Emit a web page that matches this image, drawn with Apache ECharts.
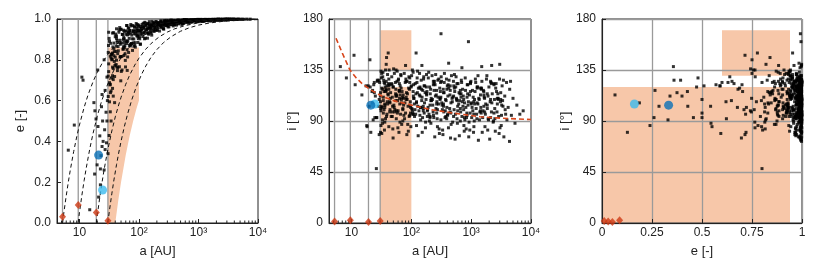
<!DOCTYPE html>
<html>
<head>
<meta charset="utf-8">
<style>
  html, body { margin: 0; background: #fff; }
  #chart { width: 830px; height: 277px; }
</style>
<script src="https://cdn.jsdelivr.net/npm/echarts@6/dist/echarts.min.js"></script>
</head>
<body>
<div id="chart"></div>
<script>
// Giant planets: Jupiter, Saturn, Uranus, Neptune
const planetA = [5.2, 9.55, 19.2, 30.1];
const planetE = [0.031, 0.088, 0.052, 0.011];
const planetI = [1.3, 2.5, 0.8, 1.8];

// the two highlighted objects: [a, e, i]
const objectDark = [21, 0.333, 104];
const objectLight = [24.5, 0.162, 105];

// particle cloud, [a (AU), e, i (deg)]
const cloudInner = [
  [30.5,0.836,115],[31,0.742,99],[31.5,0.905,128],[32,0.688,119],[33,0.818,91],[33.5,0.881,133],
  [34,0.647,108],[35,0.8,124],[36,0.931,104],[37,0.757,135],[38,0.855,117],[39,0.718,96],
  [40,0.913,131],[41,0.841,113],[42,0.798,85],[43,0.895,122],[44,0.83,106],[31,0.935,134],
  [32.5,0.677,102],[34.5,0.826,126],[36.5,0.863,120],[38.5,0.792,94],[40.5,0.926,114],[42.5,0.765,135],
  [44.5,0.865,110],[30.8,0.87,101],[33.2,0.639,129],[35.5,0.803,82],[37.5,0.933,118],[39.5,0.772,107],
  [41.5,0.867,123],[43.5,0.747,98],[32,0.891,132],[34,0.809,111],[36,0.764,89],[38,0.882,125],
  [40,0.813,105],[42,0.952,127],[44,0.761,100],[35,0.829,116],[37,0.622,92],[39,0.59,121],
  [31.5,0.429,103],[33,0.545,88],[30.3,0.34,112],[32,0.594,79],[34,0.5,97],
  [45,0.844,115],[46,0.935,94],[47,0.766,129],[48,0.896,111],[49,0.816,83],[50,0.95,120],
  [51,0.882,104],[52,0.75,132],[53,0.925,100],[54,0.852,124],[55,0.9,118],[56,0.821,92],
  [57,0.939,112],[58,0.871,134],[59,0.797,108],[60,0.925,99],[61,0.893,127],[62,0.968,80],
  [63,0.849,116],[64,0.922,105],[65,0.892,121],[66,0.955,96],[67,0.836,130],[68,0.926,109],
  [69,0.87,87],[46.5,0.946,123],[48.5,0.876,103],[50.5,0.743,136],[52.5,0.924,98],[54.5,0.853,114],
  [56.5,0.903,113],[58.5,0.829,97],[60.5,0.942,126],[62.5,0.88,117],[64.5,0.814,89],[66.5,0.932,131],
  [68.5,0.905,106],[47.5,0.958,122],[51.5,0.816,102],[55.5,0.91,135],[59.5,0.765,84],[63.5,0.748,110],
  [67.5,0.956,119],[49.5,0.697,75],[57.5,0.861,125],
  [70,0.943,116],[72,0.875,90],[74,0.966,110],[76,0.921,132],[78,0.846,106],[80,0.938,97],
  [82,0.902,125],[84,0.964,78],[86,0.884,114],[88,0.926,103],[90,0.978,119],[92,0.918,94],
  [94,0.952,128],[96,0.885,107],[98,0.944,85],[100,0.965,121],[102,0.912,101],[104,0.942,135],
  [106,0.877,96],[108,0.954,112],[71,0.944,111],[75,0.88,95],[79,0.968,124],[83,0.928,115],
  [87,0.862,87],[91,0.945,129],[95,0.916,104],[99,0.97,120],[103,0.903,100],[107,0.939,133],
  [73,0.973,113],[77,0.903,92],[81,0.944,127],[85,0.871,109],[89,0.938,81],[93,0.962,118],
  [97,0.907,102],[101,0.941,130],[105,0.876,98],[109,0.954,122]
];

const cloudMid = [
  [110,0.945,110],[113,0.973,94],[116,0.914,123],[119,0.958,114],[122,0.934,86],[125,0.98,128],
  [128,0.906,103],[131,0.969,119],[134,0.948,99],[137,0.931,132],[140,0.975,112],[143,0.955,91],
  [146,0.925,126],[149,0.987,108],[152,0.964,80],[155,0.945,117],[158,0.972,101],[161,0.953,129],
  [164,0.921,97],[167,0.97,121],[170,0.965,115],[173,0.983,89],[176,0.943,109],[179,0.972,131],
  [112,0.929,105],[118,0.979,96],[124,0.903,124],[130,0.969,77],[136,0.949,113],[142,0.933,102],
  [148,0.976,118],[154,0.958,93],[160,0.931,127],[166,0.988,106],[172,0.968,84],[178,0.952,120],
  [115,0.961,100],[127,0.941,134],[139,0.906,95],[151,0.967,111],
  [182,0.978,116],[187,0.957,100],[192,0.987,128],[197,0.944,96],[202,0.97,120],[207,0.983,114],
  [212,0.958,88],[217,0.977,108],[222,0.941,130],[228,0.969,104],[234,0.991,95],[240,0.958,123],
  [246,0.982,76],[252,0.974,112],[258,0.953,101],[264,0.989,117],[270,0.969,92],[277,0.98,126],
  [284,0.974,105],[291,0.967,83],[298,0.987,119],[185,0.957,99],[195,0.987,133],[205,0.946,94],
  [215,0.972,110],[225,0.984,109],[237,0.962,93],[249,0.98,122],[261,0.95,113],[273,0.974,85],
  [287,0.993,127],[190,0.947,102],[210,0.979,118],[231,0.972,98],[255,0.953,131],[280,0.989,111],
  [200,0.958,90],[243,0.977,125],[267,0.972,107],[294,0.968,79],
  [305,0.977,116],[312,0.99,91],[319,0.962,125],[326,0.985,104],[333,0.973,82],[341,0.994,118],
  [349,0.981,98],[357,0.972,132],[365,0.989,93],[373,0.979,109],[381,0.993,108],[390,0.972,92],
  [399,0.986,121],[408,0.982,112],[417,0.992,84],[427,0.97,126],[437,0.986,101],[447,0.99,117],
  [457,0.979,97],[468,0.989,130],[479,0.985,110],[490,0.994,89],[308,0.961,124],[322,0.984,106],
  [337,0.973,78],[353,0.994,115],[369,0.982,99],[386,0.974,127],[404,0.99,95],[422,0.981,119],
  [442,0.994,113],[462,0.976,87],[484,0.989,107],[315,0.976,129],[345,0.99,103],[377,0.966,94],
  [412,0.985,122],[452,0.99,75],[495,0.981,111],[330,0.985,100]
];

const cloudOuter = [
  [505,0.99,125],[518,0.983,100],[531,0.994,116],[545,0.978,96],[559,0.988,129],[573,0.997,109],
  [588,0.986,88],[603,0.993,123],[618,0.983,105],[634,0.991,77],[650,0.995,114],[667,0.989,98],
  [684,0.98,126],[701,0.992,94],[719,0.997,118],[737,0.987,112],[756,0.995,86],[775,0.986,106],
  [795,0.991,128],[815,0.994,102],[836,0.994,93],[512,0.982,121],[538,0.994,74],[566,0.979,110],
  [595,0.989,99],[626,0.997,115],[658,0.988,90],[692,0.993,124],[728,0.986,103],[765,0.992,81],
  [805,0.996,117],[846,0.991,97],[525,0.973,131],[580,0.991,92],[642,0.996,108],[710,0.987,107],
  [785,0.995,91],[552,0.98,120],[676,0.99,111],[825,0.994,83],
  [860,0.991,122],[885,0.997,104],[910,0.988,76],[935,0.995,113],[960,0.998,97],[990,0.993,125],
  [1020,0.987,93],[1050,0.996,117],[1080,0.992,111],[1110,0.995,85],[1140,0.998,105],[1175,0.991,127],
  [1210,0.995,101],[1245,0.997,92],[1280,0.991,120],[1320,0.994,73],[1360,0.997,109],[1395,0.995,98],
  [872,0.991,114],[922,0.997,89],[975,0.989,123],[1035,0.995,102],[1095,0.998,80],[1160,0.994,116],
  [1230,0.989,96],[1300,0.997,130],[1375,0.993,91],[898,0.993,107],[1005,0.998,106],[1125,0.991,90],
  [1262,0.996,119],[1340,0.997,110],[948,0.987,82],[1190,0.994,124],[1065,0.996,99],
  [1430,0.9965,113],[1470,0.993,97],[1510,0.998,125],[1555,0.9955,93],[1600,0.991,117],[1650,0.997,111],
  [1700,0.995,85],[1750,0.999,105],[1800,0.9967,127],[1860,0.994,101],[1920,0.998,92],[1980,0.9955,120],
  [2040,0.997,74],[2110,0.994,109],[2180,0.9989,98],[2250,0.9967,114],[2330,0.9979,89],[2390,0.9958,123],
  [1450,0.998,102],[1530,0.9954,80],[1625,0.991,116],[1725,0.997,96],[1830,0.9956,130],[1950,0.999,91],
  [2075,0.997,107],[2215,0.995,106],[2360,0.9985,90],[1490,0.994,119],[1675,0.9967,110],[1890,0.9937,82],
  [2145,0.9988,124],[1580,0.9953,99],
  [2450,0.9976,109],[2530,0.9988,81],[2610,0.9966,123],[2700,0.9983,98],[2790,0.9957,114],[2880,0.9993,94],
  [2980,0.9977,127],[3080,0.9984,107],[3180,0.9969,86],[3290,0.9989,121],[3400,0.9976,103],[3520,0.9984,76],
  [3640,0.9993,112],[3770,0.9984,96],[3900,0.9992,124],[2490,0.9964,92],[2655,0.9983,116],[2835,0.9958,110],
  [3030,0.9993,84],[3235,0.9978,104],[3460,0.9986,126],[3700,0.9973,100],[3960,0.9991,91],[2570,0.9969,119],
  [2930,0.9981,79],[3350,0.9993,108],
  [4150,0.9988,102],[4400,0.9982,118],[4700,0.9994,95],[5000,0.9988,110],[5400,0.9993,88],[4370,0.9977,72],
  [5800,0.9988,104],[6500,0.9995,96],[4550,0.9989,125],[7400,0.9993,99]
];

// the densest part of the cloud, i roughly 93-125 deg
const cloudCore = [
  [36,0.833,105],[42,0.905,118],[48,0.813,98],[55,0.945,112],[63,0.889,123],[72,0.931,101],
  [82,0.866,109],[94,0.973,95],[107,0.925,116],[122,0.963,107],[139,0.953,120],[158,0.937,99],
  [180,0.981,113],[205,0.973,104],[233,0.968,125],[265,0.992,97],[302,0.969,110],[344,0.985,115],
  [392,0.985,102],[446,0.991,121],[508,0.983,94],[578,0.995,108],[658,0.989,117],[749,0.985,100],
  [853,0.994,111],[971,0.997,124],[1105,0.994,96],[1258,0.997,106],[1432,0.994,119],[1630,0.998,103],
  [1856,0.996,114],[2113,0.997,93],[2405,0.999,122],[2738,0.996,105],[3117,0.9986,109],
  [36,0.722,102],[42,0.917,121],[48,0.885,94],[55,0.864,108],[63,0.968,117],[72,0.868,100],
  [82,0.939,111],[94,0.936,124],[107,0.963,96],[122,0.93,106],[139,0.978,119],[158,0.956,103],
  [180,0.939,114],[205,0.976,93],[233,0.989,122],[265,0.975,105],[302,0.987,109],[344,0.974,105],
  [392,0.991,118],[446,0.983,98],[508,0.989,112],[578,0.9965,123],[658,0.985,101],[749,0.994,109],
  [853,0.993,95],[971,0.996,116],[1105,0.992,107],[1258,0.9976,120],[1432,0.995,99],[1630,0.997,113],
  [1856,0.994,104],[2113,0.9988,125],[2405,0.9967,97],[2738,0.9984,110],[3117,0.9979,115],
  [37,0.703,116],[43.3,0.885,107],[49.4,0.949,120],[56.7,0.885,99],[64.9,0.938,113],[74.2,0.879,104],
  [84.5,0.959,125],[96.8,0.923,97],[110,0.95,110],[126,0.984,115],[143,0.93,102],[163,0.972,121],
  [185,0.968,94],[211,0.981,108],[240,0.963,117],[273,0.989,100],[311,0.978,111],[354,0.986,124],
  [404,0.973,96],[459,0.995,106],[523,0.985,119],[595,0.992,103],[678,0.99,114],[771,0.987,93],
  [879,0.996,122],[1000,0.9945,105],[1138,0.9934,109],[1296,0.9985,105],[1475,0.9936,118],[1679,0.997,98],
  [1912,0.9969,112],[2176,0.9982,123],[2477,0.9966,101],[2820,0.9989,109],[3210,0.9978,95]
];

// scattered objects away from the main cloud
const strays = [
  [6.5,0.357,138],[8.2,0.48,128],[11,0.715,148],[11.5,0.7,122],[14.9,0.065,113],[21,0.127,80],
  [22.5,0.187,106],[18,0.24,86],[22.5,0.265,117],[26,0.26,93],[19.8,0.285,103],[23,0.33,91],
  [27,0.36,126],[24,0.375,115],[28.5,0.393,126],[25,0.4,112],[22,0.427,116],[26.5,0.457,93],
  [20.5,0.473,120],[29,0.5,109],[24.5,0.5,93],[19,0.51,121],[28,0.543,103],[23.5,0.57,122],
  [17.5,0.59,121],[29.5,0.6,124],[24,0.63,124],[27,0.65,125],[20.3,0.75,144],[26,0.8,48],
  [41,0.777,150],[38.5,0.84,146],[38,0.82,140],[29,0.715,78],[30.5,0.72,80],[80,0.883,139],
  [120,0.953,150],[313,0.992,167],[900,0.995,160],[150,0.96,139],[420,0.985,141],[1500,0.996,138],
  [3000,0.998,140],[700,0.99,137],[2200,0.997,139],[18.2,0.55,85],[33,0.68,118],[35,0.71,100],
  [31,0.78,86],[36,0.66,123],[30.5,0.62,107]
];

const qCurveJupiter = [[5.2,0],[5.5,0.055],[6,0.133],[6.5,0.2],[7,0.257],[8,0.35],[9,0.422],[10,0.48],
  [12,0.567],[14,0.629],[17,0.694],[20,0.74],[25,0.792],[30,0.827],[40,0.87],[50,0.896],[70,0.926],
  [100,0.948],[150,0.965],[200,0.974],[300,0.983],[500,0.99],[1000,0.995],[2000,0.997],[5000,0.999],[10000,0.9995]];
const qCurveSaturn = [[9.5,0],[10,0.05],[11,0.136],[12,0.208],[13,0.269],[15,0.367],[17,0.441],[20,0.525],
  [23,0.587],[27,0.648],[32,0.703],[40,0.763],[50,0.81],[65,0.854],[80,0.881],[100,0.905],[150,0.937],
  [200,0.953],[300,0.968],[500,0.981],[1000,0.9905],[2000,0.995],[5000,0.998],[10000,0.999]];
const qCurveUranus = [[19.2,0],[20,0.04],[22,0.127],[24,0.2],[26,0.262],[30,0.36],[35,0.451],[40,0.52],
  [45,0.573],[50,0.616],[60,0.68],[70,0.726],[85,0.774],[100,0.808],[130,0.852],[170,0.887],[220,0.913],
  [300,0.936],[400,0.952],[600,0.968],[1000,0.981],[2000,0.99],[4000,0.995],[10000,0.998]];
const qCurveNeptune = [[30,0],[32,0.063],[35,0.143],[38,0.211],[42,0.286],[46,0.348],[50,0.4],[57,0.474],
  [65,0.538],[75,0.6],[90,0.667],[110,0.727],[130,0.769],[160,0.813],[200,0.85],[260,0.885],[350,0.914],
  [500,0.94],[700,0.957],[1000,0.97],[1500,0.98],[2500,0.988],[5000,0.994],[10000,0.997]];

// red dashed i(a) curve in panel 2
const inclCurve = [[5.5,163],[7,150],[9.4,135],[12,128],[15,123],[20,118],[32,112],[50,108],
  [100,104],[200,100.3],[500,97],[1400,93.8],[3000,92.5],[10000,91.3]];

// shaded regions (polygon vertices in data units)
const zonesAE = [
  [[30,0],[40,0],[45,0.111],[50,0.2],[60,0.333],[70,0.429],[80,0.5],[90,0.556],[100,0.6],[100,0.86],[30,0.86]]
];
const zonesAI = [
  [[30,0],[100,0],[100,120],[30,120]],
  [[30,135],[100,135],[100,170],[30,170]]
];
const zonesEI = [
  [[0,0],[0.94,0],[0.94,120],[0,120]],
  [[0.6,130],[0.94,130],[0.94,170],[0.6,170]]
];

const logMinorTicks = [5,6,7,8,9,20,30,40,50,60,70,80,90,200,300,400,500,600,700,800,900,
  2000,3000,4000,5000,6000,7000,8000,9000];
const decadeLabels = { 10: "10", 100: "10\u00b2", 1000: "10\u00b3", 10000: "10\u2074" };

const COLORS = {
  zone: "#f7c7a9",
  grid: "#9a9a9a",
  frame: "#222",
  dot: "#000",
  dark: "#0a71b6",
  light: "#3cbaed",
  planet: "#cd3914",
  incl: "#d8461c",
};
const FONT = "Liberation Sans, Arial, sans-serif";

const cloud = cloudInner.concat(cloudMid, cloudOuter, cloudCore, strays);
const planets = planetA.map((a, k) => [a, planetE[k], planetI[k]]);

// which two of [a, e, i] each panel shows
const PANEL_DIMS = [[0, 1], [0, 2], [1, 2]];
const pick = (row, k) => [row[PANEL_DIMS[k][0]], row[PANEL_DIMS[k][1]]];

const labelStyle = { color: "#222", fontSize: 12, fontFamily: FONT };
const nameStyle = { color: "#222", fontSize: 13, fontFamily: FONT };

function logXAxis(idx) {
  return {
    gridIndex: idx, type: "log", logBase: 10, min: 4.2, max: 10000,
    name: "a [AU]", nameLocation: "middle", nameGap: 22, nameTextStyle: nameStyle,
    axisLine: { lineStyle: { color: COLORS.frame } },
    axisTick: { inside: true, length: 4, lineStyle: { color: COLORS.frame } },
    axisLabel: { ...labelStyle, margin: 4, formatter: (v) => decadeLabels[Math.round(v)] || "" },
    splitLine: { show: false },
  };
}

function inclYAxis(idx) {
  return {
    gridIndex: idx, type: "value", min: 0, max: 180, interval: 45,
    name: "i [\u00b0]", nameLocation: "middle", nameGap: 30, nameTextStyle: nameStyle,
    axisLine: { lineStyle: { color: COLORS.frame } },
    axisTick: { inside: true, length: 4, lineStyle: { color: COLORS.frame } },
    axisLabel: { ...labelStyle, margin: 6 },
    splitLine: { show: true, lineStyle: { color: COLORS.grid, width: 1.3 } },
  };
}

function zoneSeries(idx, polygons) {
  return {
    type: "custom", xAxisIndex: idx, yAxisIndex: idx, z: -1, silent: true,
    data: polygons.map((poly) => poly[0]),
    renderItem(params, api) {
      const points = polygons[params.dataIndex].map((p) => api.coord(p));
      return { type: "polygon", shape: { points }, style: { fill: COLORS.zone } };
    },
  };
}

function planetLineSeries(idx, yMin, yMax) {
  return {
    type: "custom", xAxisIndex: idx, yAxisIndex: idx, z: 1, silent: true,
    data: planetA.map((a) => [a, yMin]),
    renderItem(params, api) {
      const p0 = api.coord([api.value(0), yMin]);
      const p1 = api.coord([api.value(0), yMax]);
      return {
        type: "line",
        shape: { x1: p0[0], y1: p0[1], x2: p1[0], y2: p1[1] },
        style: { stroke: COLORS.grid, lineWidth: 1.3 },
      };
    },
  };
}

function minorTickSeries(idx) {
  return {
    type: "custom", xAxisIndex: idx, yAxisIndex: idx, z: 3, silent: true,
    data: logMinorTicks.map((v) => [v, 0]),
    renderItem(params, api) {
      const p = api.coord([api.value(0), 0]);
      return {
        type: "line",
        shape: { x1: p[0], y1: p[1], x2: p[0], y2: p[1] - 2.5 },
        style: { stroke: COLORS.frame, lineWidth: 1 },
      };
    },
  };
}

function pointSeries(idx) {
  return [
    {
      type: "scatter", xAxisIndex: idx, yAxisIndex: idx, z: 2,
      symbol: "rect", symbolSize: 3, itemStyle: { color: COLORS.dot },
      data: cloud.map((row) => pick(row, idx)),
    },
    {
      type: "scatter", xAxisIndex: idx, yAxisIndex: idx, z: 5, symbolSize: 9,
      itemStyle: { color: COLORS.light }, data: [pick(objectLight, idx)],
    },
    {
      type: "scatter", xAxisIndex: idx, yAxisIndex: idx, z: 5, symbolSize: 9,
      itemStyle: { color: COLORS.dark }, data: [pick(objectDark, idx)],
    },
    {
      type: "scatter", xAxisIndex: idx, yAxisIndex: idx, z: 6,
      symbol: "diamond", symbolSize: [7, 8], itemStyle: { color: COLORS.planet },
      data: planets.map((row) => pick(row, idx)),
    },
  ];
}

function qCurve(data) {
  return {
    type: "line", xAxisIndex: 0, yAxisIndex: 0, z: 4, data,
    symbol: "none", silent: true,
    lineStyle: { color: "#111", width: 1, type: [4, 3] },
  };
}

const gridBox = { show: true, borderColor: COLORS.frame, borderWidth: 1, backgroundColor: "transparent" };

const option = {
  animation: false,
  grid: [
    { ...gridBox, left: 57, top: 19, width: 201, height: 204 },
    { ...gridBox, left: 329, top: 19, width: 202, height: 204 },
    { ...gridBox, left: 602, top: 19, width: 200, height: 204 },
  ],
  xAxis: [
    logXAxis(0),
    logXAxis(1),
    {
      gridIndex: 2, type: "value", min: 0, max: 1, interval: 0.25,
      name: "e [-]", nameLocation: "middle", nameGap: 22, nameTextStyle: nameStyle,
      axisLine: { lineStyle: { color: COLORS.frame } },
      axisTick: { inside: true, length: 4, lineStyle: { color: COLORS.frame } },
      axisLabel: { ...labelStyle, margin: 4 },
      splitLine: { show: true, lineStyle: { color: COLORS.grid, width: 1.3 } },
    },
  ],
  yAxis: [
    {
      gridIndex: 0, type: "value", min: 0, max: 1, interval: 0.2,
      name: "e [-]", nameLocation: "middle", nameGap: 30, nameTextStyle: nameStyle,
      axisLine: { lineStyle: { color: COLORS.frame } },
      axisTick: { inside: true, length: 4, lineStyle: { color: COLORS.frame } },
      axisLabel: { ...labelStyle, margin: 6, formatter: (v) => v.toFixed(1) },
      splitLine: { show: false },
    },
    inclYAxis(1),
    inclYAxis(2),
  ],
  series: [
    zoneSeries(0, zonesAE),
    zoneSeries(1, zonesAI),
    zoneSeries(2, zonesEI),
    planetLineSeries(0, 0, 1),
    planetLineSeries(1, 0, 180),
    minorTickSeries(0),
    minorTickSeries(1),
    ...pointSeries(0),
    ...pointSeries(1),
    ...pointSeries(2),
    qCurve(qCurveJupiter),
    qCurve(qCurveSaturn),
    qCurve(qCurveUranus),
    qCurve(qCurveNeptune),
    {
      type: "line", xAxisIndex: 1, yAxisIndex: 1, z: 4, data: inclCurve,
      symbol: "none", silent: true,
      lineStyle: { color: COLORS.incl, width: 1.6, type: [5, 3] },
    },
  ],
};

const chart = echarts.init(document.getElementById("chart"), null, { renderer: "canvas" });
chart.setOption(option);
</script>
</body>
</html>
